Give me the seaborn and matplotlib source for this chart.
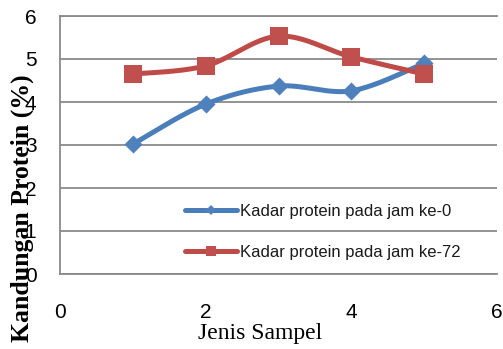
import numpy as np
import pandas as pd
import matplotlib
matplotlib.use("Agg")
import matplotlib.pyplot as plt
from matplotlib.lines import Line2D
import seaborn as sns

# Sample numbers and protein content (%) at hour 0 and hour 72
sampel = [1, 2, 3, 4, 5]
protein_jam0 = [3.02, 3.95, 4.37, 4.26, 4.90]
protein_jam72 = [4.65, 4.84, 5.53, 5.05, 4.65]
series_labels = ["Kadar protein pada jam ke-0", "Kadar protein pada jam ke-72"]
x_ticks = [0, 2, 4, 6]
y_ticks = [0, 1, 2, 3, 4, 5, 6]

BLUE_LINE, BLUE_MARK = "#4A7EBB", "#4F81BD"
RED_LINE, RED_MARK = "#BE4B48", "#C0504D"
GRID = "#8a8a8a"


def smooth(xs, ys, n=40):
    """Cubic Bezier smoothing through every point (spreadsheet-style)."""
    p = np.column_stack([xs, ys]).astype(float)
    ext = np.vstack([p[0], p, p[-1]])
    t = np.linspace(0, 1, n)[:, None]
    out = []
    for i in range(len(p) - 1):
        p0, p3 = ext[i + 1], ext[i + 2]
        c1 = p0 + (ext[i + 2] - ext[i]) / 6.0
        c2 = p3 - (ext[i + 3] - ext[i + 1]) / 6.0
        seg = ((1 - t) ** 3) * p0 + 3 * ((1 - t) ** 2) * t * c1 \
            + 3 * (1 - t) * t ** 2 * c2 + t ** 3 * p3
        out.append(seg if i == 0 else seg[1:])
    arr = np.vstack(out)
    return arr[:, 0], arr[:, 1]


sns.set_theme(style="white")
plt.rcParams["font.family"] = ["Liberation Sans", "DejaVu Sans"]

fig = plt.figure(figsize=(5.03, 3.49), dpi=100)
ax = fig.add_axes([60 / 503, 1 - 274 / 349, 437 / 503, 258 / 349])

series = [
    (protein_jam0, BLUE_LINE, BLUE_MARK, "D", 85),
    (protein_jam72, RED_LINE, RED_MARK, "s", 187),
]
z = 3
for vals, lc, mc, mk, ms in series:
    sx, sy = smooth(sampel, vals)
    curve = pd.DataFrame({"x": sx, "y": sy})
    sns.lineplot(data=curve, x="x", y="y", sort=False, estimator=None,
                 color=lc, linewidth=3.6, ax=ax, zorder=z)
    pts = pd.DataFrame({"x": sampel, "y": vals})
    sns.scatterplot(data=pts, x="x", y="y", marker=mk, s=ms, color=mc,
                    linewidth=0, ax=ax, zorder=z + 1)
    z += 2

ax.set_xlim(0, 6)
ax.set_ylim(0, 6)
ax.set_xticks(x_ticks)
ax.set_yticks(y_ticks)
ax.set_xticklabels([str(v) for v in x_ticks])
ax.set_yticklabels([str(v) for v in y_ticks])
ax.tick_params(axis="both", length=0, labelsize=15, labelcolor="black")
ax.tick_params(axis="y", pad=17)
ax.tick_params(axis="x", pad=21)

ax.yaxis.grid(True, color=GRID, linewidth=1.3)
ax.xaxis.grid(False)
ax.set_axisbelow(True)
for side in ["left", "bottom", "top"]:
    ax.spines[side].set_color(GRID)
    ax.spines[side].set_linewidth(1.3)
ax.spines["right"].set_visible(False)

ax.set_xlabel("Jenis Sampel", family="Liberation Serif", fontsize=17,
              color="black")
ax.xaxis.set_label_coords(0.458, -0.19)
ax.set_ylabel("Kandungan Protein (%)", family="Liberation Serif",
              fontsize=18.5, fontweight="bold", color="black")
ax.yaxis.label.set_va("center")
ax.yaxis.set_label_coords(-0.087, 0.254)

handles = [
    Line2D([], [], color=BLUE_LINE, linewidth=3.6, marker="D", markersize=5,
           markerfacecolor=BLUE_MARK, markeredgewidth=0),
    Line2D([], [], color=RED_LINE, linewidth=3.6, marker="s", markersize=7.5,
           markerfacecolor=RED_MARK, markeredgewidth=0),
]
leg = ax.legend(handles, series_labels, loc="upper left",
                bbox_to_anchor=(185 / 503, 1 - 204 / 349),
                bbox_transform=fig.transFigure, frameon=False, fontsize=12,
                handlelength=3.1, handletextpad=0.2, labelspacing=1.56,
                borderpad=0, borderaxespad=0)
for t in leg.get_texts():
    t.set_color("#1a1a1a")

fig.savefig("out.png", dpi=100)
